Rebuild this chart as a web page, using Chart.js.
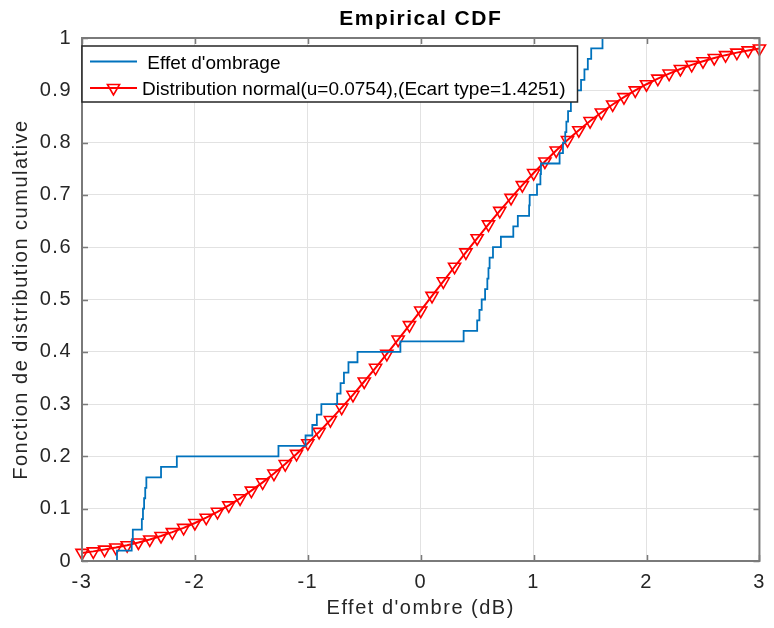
<!DOCTYPE html>
<html>
<head>
<meta charset="utf-8">
<title>Empirical CDF</title>
<script src="https://cdn.jsdelivr.net/npm/chart.js@4.4.0/dist/chart.umd.min.js"></script>
<style>
  html, body { margin: 0; padding: 0; background: #fff; }
  #cdfChart { display: block; }
</style>
</head>
<body>
<canvas id="cdfChart" width="774" height="628"></canvas>
<script>
// empirical CDF: sample where each step happens and the level reached after it
const ecdfX = [-2.69, -2.56, -2.55, -2.47, -2.46, -2.45, -2.44, -2.43, -2.30, -2.16,
               -1.26, -1.02, -0.96, -0.92, -0.88, -0.74, -0.71, -0.68, -0.64, -0.56,
               -0.18, 0.38, 0.50, 0.52, 0.54, 0.57, 0.59, 0.60, 0.61, 0.64,
               0.71, 0.82, 0.86, 0.96, 0.965, 1.03, 1.06, 1.065, 1.23, 1.26,
               1.28, 1.29, 1.305, 1.33, 1.38, 1.42, 1.45, 1.48, 1.51, 1.61];
const ecdfY = [0.02, 0.04, 0.06, 0.08, 0.10, 0.12, 0.14, 0.16, 0.18, 0.20,
               0.22, 0.24, 0.26, 0.28, 0.30, 0.32, 0.34, 0.36, 0.38, 0.40,
               0.42, 0.44, 0.46, 0.48, 0.50, 0.52, 0.54, 0.56, 0.58, 0.60,
               0.62, 0.64, 0.66, 0.68, 0.70, 0.72, 0.74, 0.76, 0.78, 0.80,
               0.82, 0.84, 0.86, 0.88, 0.90, 0.92, 0.94, 0.96, 0.98, 1.00];

// fitted normal law (u = 0.0754, sigma = 1.4251), one marker every 0.1 dB
const normalX = [-3.0, -2.9, -2.8, -2.7, -2.6, -2.5, -2.4, -2.3, -2.2, -2.1,
                 -2.0, -1.9, -1.8, -1.7, -1.6, -1.5, -1.4, -1.3, -1.2, -1.1,
                 -1.0, -0.9, -0.8, -0.7, -0.6, -0.5, -0.4, -0.3, -0.2, -0.1,
                 0.0, 0.1, 0.2, 0.3, 0.4, 0.5, 0.6, 0.7, 0.8, 0.9,
                 1.0, 1.1, 1.2, 1.3, 1.4, 1.5, 1.6, 1.7, 1.8, 1.9,
                 2.0, 2.1, 2.2, 2.3, 2.4, 2.5, 2.6, 2.7, 2.8, 2.9, 3.0];
const normalCdf = [0.0155, 0.0184, 0.0218, 0.0257, 0.0302, 0.0354, 0.0412, 0.0478, 0.0552, 0.0634,
                   0.0727, 0.0828, 0.0941, 0.1064, 0.1199, 0.1345, 0.1503, 0.1672, 0.1854, 0.2048,
                   0.2252, 0.2469, 0.2695, 0.2932, 0.3178, 0.3432, 0.3694, 0.3961, 0.4234, 0.4510,
                   0.4789, 0.5069, 0.5348, 0.5626, 0.5901, 0.6171, 0.6436, 0.6694, 0.6944, 0.7186,
                   0.7418, 0.7639, 0.7850, 0.8049, 0.8237, 0.8412, 0.8576, 0.8729, 0.8869, 0.8998,
                   0.9116, 0.9223, 0.9320, 0.9407, 0.9486, 0.9556, 0.9618, 0.9672, 0.9720, 0.9763, 0.9799];

const xTicks = [-3, -2, -1, 0, 1, 2, 3];
const yTicks = [0, 0.1, 0.2, 0.3, 0.4, 0.5, 0.6, 0.7, 0.8, 0.9, 1];

const FONT = "'Liberation Sans', Arial, Helvetica, sans-serif";
const AXIS_GREY = '#7a7a7a';
const TEXT_GREY = '#262626';

const ecdfPoints = [{ x: ecdfX[0], y: 0 }].concat(ecdfX.map((x, i) => ({ x: x, y: ecdfY[i] })));
const normalPoints = normalX.map((x, i) => ({ x: x, y: normalCdf[i] }));

// box, inward ticks, title and legend drawn like a MATLAB axes
const matlabAxes = {
  id: 'matlabAxes',
  beforeDraw(chart) {
    chart.ctx.letterSpacing = '1.5px';
  },
  afterDatasetsDraw(chart) {
    const { ctx, chartArea: a, scales } = chart;
    ctx.save();
    ctx.strokeStyle = AXIS_GREY;
    ctx.lineWidth = 1.5;
    ctx.beginPath();
    xTicks.forEach(v => {
      const px = Math.round(scales.x.getPixelForValue(v)) + 0.5;
      ctx.moveTo(px, a.bottom); ctx.lineTo(px, a.bottom - 6);
      ctx.moveTo(px, a.top); ctx.lineTo(px, a.top + 6);
    });
    yTicks.forEach(v => {
      const py = Math.round(scales.y.getPixelForValue(v)) + 0.5;
      ctx.moveTo(a.left, py); ctx.lineTo(a.left + 6, py);
      ctx.moveTo(a.right, py); ctx.lineTo(a.right - 6, py);
    });
    ctx.stroke();
    ctx.lineWidth = 2;
    ctx.strokeRect(a.left, a.top, a.right - a.left, a.bottom - a.top);
    ctx.restore();
  },
  afterDraw(chart) {
    const { ctx, chartArea: a } = chart;
    ctx.save();

    // title
    ctx.letterSpacing = '1.5px';
    ctx.fillStyle = '#000';
    ctx.font = 'bold 21px ' + FONT;
    ctx.textAlign = 'center';
    ctx.textBaseline = 'alphabetic';
    ctx.fillText('Empirical CDF', (a.left + a.right) / 2, 25);

    // legend
    ctx.letterSpacing = '0px';
    ctx.font = '19px ' + FONT;
    ctx.textAlign = 'left';
    const ds = chart.data.datasets;
    const rows = [61.5, 88];
    const textX = 142;
    const widest = Math.max(...ds.map(d => ctx.measureText(d.label).width));
    const boxL = a.left, boxT = 46, boxR = textX + widest + 12, boxB = 102;
    ctx.fillStyle = '#fff';
    ctx.fillRect(boxL, boxT, boxR - boxL, boxB - boxT);
    ctx.strokeStyle = TEXT_GREY;
    ctx.lineWidth = 1.5;
    ctx.strokeRect(boxL, boxT, boxR - boxL, boxB - boxT);

    ds.forEach((d, i) => {
      const y = rows[i];
      ctx.strokeStyle = d.borderColor;
      ctx.lineWidth = d.borderWidth;
      ctx.beginPath();
      ctx.moveTo(90, y);
      ctx.lineTo(137, y);
      ctx.stroke();
      if (d.pointRadius > 0) {
        ctx.fillStyle = d.pointBackgroundColor;
        ctx.strokeStyle = d.pointBorderColor;
        ctx.lineWidth = d.pointBorderWidth;
        Chart.helpers.drawPoint(ctx, {
          pointStyle: d.pointStyle,
          rotation: d.rotation,
          radius: d.pointRadius,
          borderWidth: d.pointBorderWidth
        }, 113.5, y);
      }
      ctx.fillStyle = '#000';
      ctx.fillText(d.label, textX, y + 7);
    });
    ctx.restore();
  }
};

new Chart(document.getElementById('cdfChart'), {
  type: 'line',
  data: {
    datasets: [
      {
        label: " Effet d'ombrage",
        data: ecdfPoints,
        stepped: 'before',
        borderColor: '#0072BD',
        borderWidth: 1.8,
        pointRadius: 0,
        fill: false
      },
      {
        label: 'Distribution normal(u=0.0754),(Ecart type=1.4251)',
        data: normalPoints,
        borderColor: '#ff0000',
        borderWidth: 2,
        pointStyle: 'triangle',
        rotation: 180,
        pointRadius: 7,
        pointBorderWidth: 1.6,
        pointBorderColor: '#ff0000',
        pointBackgroundColor: 'rgba(255,0,0,0)',
        tension: 0,
        fill: false,
        clip: 10
      }
    ]
  },
  options: {
    responsive: false,
    animation: false,
    devicePixelRatio: 1,
    layout: { padding: { top: 38, right: 5, bottom: 0, left: 0 } },
    plugins: {
      legend: { display: false },
      tooltip: { enabled: false },
      title: { display: false }
    },
    scales: {
      x: {
        type: 'linear',
        min: -3,
        max: 3,
        afterFit: s => { s.height = 67; },
        afterBuildTicks: s => { s.ticks = xTicks.map(v => ({ value: v })); },
        ticks: {
          color: TEXT_GREY,
          font: { family: FONT, size: 20 },
          padding: 9,
          callback: v => String(v)
        },
        grid: { color: '#e2e2e2', lineWidth: 1, drawTicks: false },
        border: { display: false },
        title: {
          display: true,
          text: "Effet d'ombre (dB)",
          color: TEXT_GREY,
          font: { family: FONT, size: 20 },
          padding: { top: 0, bottom: 8 }
        }
      },
      y: {
        type: 'linear',
        min: 0,
        max: 1,
        afterFit: s => { s.width = 82; },
        afterBuildTicks: s => { s.ticks = yTicks.map(v => ({ value: v })); },
        ticks: {
          color: TEXT_GREY,
          font: { family: FONT, size: 20 },
          padding: 10,
          callback: v => String(+v.toFixed(1))
        },
        grid: { color: '#e2e2e2', lineWidth: 1, drawTicks: false },
        border: { display: false },
        title: {
          display: true,
          text: 'Fonction de distribution cumulative',
          color: TEXT_GREY,
          font: { family: FONT, size: 20 },
          padding: { top: 9, bottom: 0 }
        }
      }
    }
  },
  plugins: [matlabAxes]
});
</script>
</body>
</html>
